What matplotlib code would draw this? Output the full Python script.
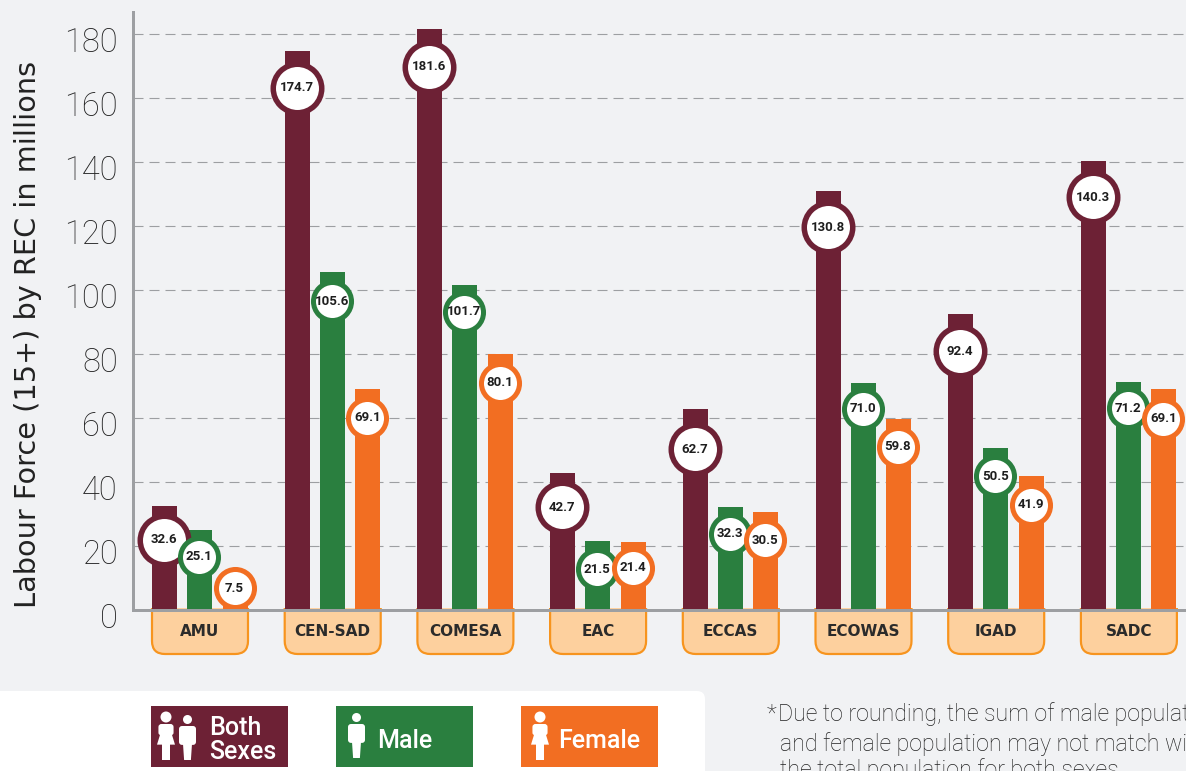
import numpy as np
import matplotlib
matplotlib.use("Agg")
import matplotlib.pyplot as plt
from matplotlib.patches import Circle, FancyBboxPatch, PathPatch, Polygon, Rectangle
from matplotlib.path import Path
from matplotlib.transforms import ScaledTranslation

# data
recs = ["AMU", "CEN-SAD", "COMESA", "EAC", "ECCAS", "ECOWAS", "IGAD", "SADC"]
both = [32.6, 174.7, 181.6, 42.7, 62.7, 130.8, 92.4, 140.3]
male = [25.1, 105.6, 101.7, 21.5, 32.3, 71.0, 50.5, 71.2]
female = [7.5, 69.1, 80.1, 21.4, 30.5, 59.8, 41.9, 69.1]
yticks = [0, 20, 40, 60, 80, 100, 120, 140, 160, 180]

# how far the label circle sits below the top of its bar, in pixels
both_drop = [34, 37, 38, 34, 40, 36, 37, 36]
male_drop = [27, 29, 27, 28, 27, 26, 28, 26]
female_drop = [2, 29, 29, 26, 28, 28, 29, 30]

BG = "#F1F2F4"
C_BOTH = "#6D2135"
C_MALE = "#2A7F3F"
C_FEMALE = "#F26E22"
GREY = "#9D9FA2"
DARK = "#2B2B2B"

W, H = 1186, 771
PX = 72 / 100  # one pixel in points
Y0, YTOP, PX_PER_UNIT = 610, 12, 3.2
AX_LEFT = 133

fig = plt.figure(figsize=(W / 100, H / 100), dpi=100, facecolor=BG)

# overlay in pixel coordinates for the panel, badges and legend
deco = fig.add_axes([0, 0, 1, 1], zorder=0)
deco.set_xlim(0, W)
deco.set_ylim(H, 0)
deco.axis("off")

ax = fig.add_axes([AX_LEFT / W, (H - Y0) / H, (W - AX_LEFT) / W, (Y0 - YTOP) / H], zorder=1)
ax.patch.set_alpha(0)
ax.set_xlim(AX_LEFT, W)
ax.set_ylim(0, (Y0 - YTOP) / PX_PER_UNIT)

group_x = 164.5 + np.arange(len(recs)) * 132.7
series = [
    (both, both_drop, C_BOTH, 0, 1219, 5.5),
    (male, male_drop, C_MALE, 35, 750, 5),
    (female, female_drop, C_FEMALE, 70.5, 750, 5),
]

for values, drops, color, offset, size, edge in series:
    ax.bar(group_x + offset, values, width=25, color=color, zorder=2)

z = 3
for i in range(len(recs)):
    for values, drops, color, offset, size, edge in series:
        cy = values[i] - drops[i] / PX_PER_UNIT
        ax.scatter(group_x[i] + offset - 0.5, cy, s=size, facecolor="white", edgecolor=color,
                   linewidth=edge * PX, zorder=z, clip_on=False)
        ax.text(group_x[i] + offset - 0.5, cy, f"{values[i]:.1f}", ha="center", va="center",
                family="Roboto", fontweight="bold", fontsize=9.5, color="#1E1E1E", zorder=z + 1)
        z += 2

ax.set_yticks(yticks)
ax.set_xticks([])
ax.tick_params(axis="y", length=0, pad=11, labelsize=23.5, labelcolor="#222222")
# the numbers sit a little below their grid lines
shift = ScaledTranslation(0, -6 / 100, fig.dpi_scale_trans)
for t in ax.get_yticklabels():
    t.set_family("Roboto")
    t.set_fontweight("light")
    t.set_transform(t.get_transform() + shift)
ax.yaxis.grid(True, color=GREY, linewidth=0.8, linestyle=(0, (9, 5.4)), zorder=1)
ax.set_axisbelow(True)

for s in ["top", "right"]:
    ax.spines[s].set_visible(False)
for s in ["left", "bottom"]:
    ax.spines[s].set_color(GREY)
    ax.spines[s].set_linewidth(3 * PX)
    ax.spines[s].set_zorder(50)

ax.set_ylabel("Labour Force (15+) by REC in millions", family="DejaVu Sans", fontsize=20.7, color="#222222")
ax.yaxis.set_label_coords((42 - AX_LEFT) / (W - AX_LEFT), (Y0 - 334) / (Y0 - YTOP))

# category badges, square on top and rounded at the bottom
for i, name in enumerate(recs):
    cx = group_x[i] + 35.5
    l, r, t, b, rad = cx - 48, cx + 48, Y0 - 2, 654, 13
    verts = [(l, t), (l, b - rad), (l, b), (l + rad, b), (r - rad, b), (r, b), (r, b - rad), (r, t)]
    codes = [Path.MOVETO, Path.LINETO, Path.CURVE3, Path.CURVE3, Path.LINETO, Path.CURVE3, Path.CURVE3, Path.LINETO]
    deco.add_patch(PathPatch(Path(verts, codes), facecolor="#FDD09E", edgecolor="#F7941E", linewidth=2.2 * PX))
    deco.text(cx, 632, name, ha="center", va="center", family="DejaVu Sans", fontsize=11,
              color=DARK, fontweight="bold")

# white panel behind the legend
deco.add_patch(FancyBboxPatch((-20, 691), 725, 120, boxstyle="round,pad=0,rounding_size=8",
                              facecolor="white", edgecolor="none"))


def draw_male(x, top, bottom, w=17):
    # x is the centre of the figure
    h = bottom - top
    deco.add_patch(Circle((x, top + 4.5), 4.5, facecolor="white", edgecolor="none", zorder=4))
    deco.add_patch(FancyBboxPatch((x - w / 2, top + 11), w, h * 0.42, boxstyle="round,pad=0,rounding_size=3",
                                  facecolor="white", edgecolor="none", zorder=4))
    deco.add_patch(Polygon([(x - w * 0.3, top + 20), (x + w * 0.3, top + 20), (x + w * 0.2, bottom), (x - w * 0.2, bottom)],
                           facecolor="white", edgecolor="none", zorder=4))


def draw_female(x, top, bottom, w=18):
    h = bottom - top
    deco.add_patch(Circle((x, top + 5), 5.5, facecolor="white", edgecolor="none", zorder=4))
    deco.add_patch(FancyBboxPatch((x - w * 0.42, top + 12), w * 0.84, h * 0.24, boxstyle="round,pad=0,rounding_size=3",
                                  facecolor="white", edgecolor="none", zorder=4))
    deco.add_patch(Polygon([(x - w * 0.25, top + 18), (x + w * 0.25, top + 18), (x + w * 0.5, top + h * 0.68), (x - w * 0.5, top + h * 0.68)],
                           facecolor="white", edgecolor="none", zorder=4))
    deco.add_patch(Rectangle((x - w * 0.2, top + h * 0.66), w * 0.4, h * 0.34, facecolor="white", edgecolor="none", zorder=4))


deco.add_patch(Rectangle((151, 706), 137, 61, facecolor=C_BOTH, edgecolor="none", zorder=3))
deco.add_patch(Rectangle((336, 706), 137, 61, facecolor=C_MALE, edgecolor="none", zorder=3))
deco.add_patch(Rectangle((521, 706), 137, 61, facecolor=C_FEMALE, edgecolor="none", zorder=3))
draw_female(166, 712, 760)
draw_male(187.5, 715, 760)
draw_male(356.5, 713, 758)
draw_female(540, 712, 760)

tile_font = dict(family="Roboto", fontweight="medium", fontsize=18, color="white", va="center", ha="left", zorder=5)
deco.text(209, 728, "Both", **tile_font)
deco.text(209, 752, "Sexes", **tile_font)
deco.text(377, 741, "Male", **tile_font)
deco.text(558, 741, "Female", **tile_font)

# footnote, runs off the right and bottom edge
note = dict(family="Roboto", fontsize=16.7, color="#222222", va="center", ha="left", fontweight="light")
deco.text(767, 714, "*", **note)
deco.text(778, 714, "Due to rounding, the sum of male population", **note)
deco.text(780, 744, "and female population may not match with", **note)
deco.text(780, 770, "the total population for both sexes.", **note)

fig.savefig("out.png", dpi=100, facecolor=BG)
